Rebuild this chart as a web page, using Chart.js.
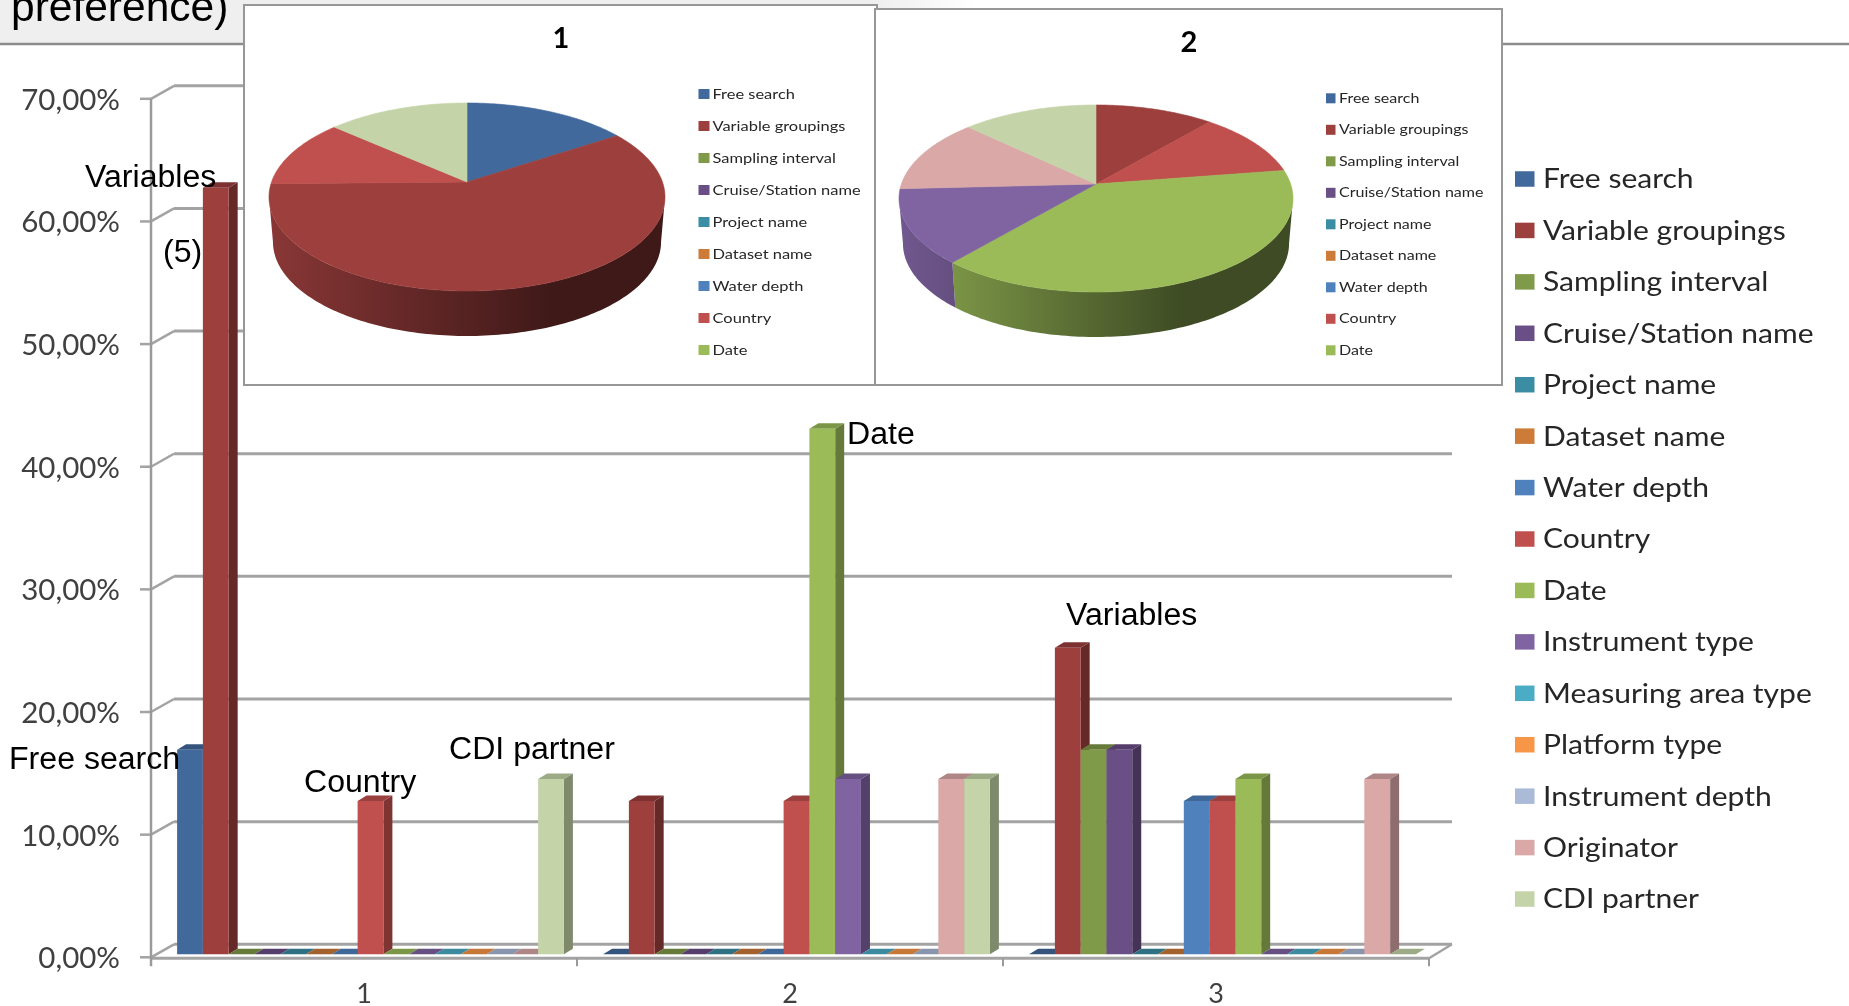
<!DOCTYPE html>
<html>
<head>
<meta charset="utf-8">
<title>Search preference</title>
<script src="https://cdn.jsdelivr.net/npm/chart.js@4"></script>
<style>
  html, body { margin: 0; padding: 0; background: #fff; overflow: hidden; }
  #page { position: relative; width: 1849px; height: 1006px; }
  #mainChart { position: absolute; left: 0; top: 0; }
  .inset { position: absolute; box-sizing: border-box; background: #fff; border: 2px solid #979797; }
  .inset canvas { display: block; }
  #inset1 { left: 243px; top: 4px; width: 635px; height: 382px; z-index: 1; }
  #inset2 { left: 874px; top: 8px; width: 629px; height: 378px; z-index: 2; }
</style>
</head>
<body>
<div id="page">
  <canvas id="mainChart" width="1849" height="1006"></canvas>
  <div class="inset" id="inset1"><canvas id="pie1" width="631" height="378"></canvas></div>
  <div class="inset" id="inset2"><canvas id="pie2" width="625" height="374"></canvas></div>
</div>
<script>
// ====== Data ======
const groups = ['1', '2', '3'];
const yTicks = [0, 10, 20, 30, 40, 50, 60, 70];

const seriesNames = [
  'Free search', 'Variable groupings', 'Sampling interval', 'Cruise/Station name',
  'Project name', 'Dataset name', 'Water depth', 'Country', 'Date', 'Instrument type',
  'Measuring area type', 'Platform type', 'Instrument depth', 'Originator', 'CDI partner'
];
const seriesColors = [
  '#41699c', '#9c3f3d', '#7f9a48', '#6a4e86', '#3b8da3', '#cc7b38', '#4f81bd', '#c0504d',
  '#9bbb59', '#8064a2', '#4bacc6', '#f79646', '#aabad7', '#d9a8a7', '#c4d4a8'
];

const freeSearch = [16.67, 0, 0];
const variableGroupings = [62.5, 12.5, 25];
const samplingInterval = [0, 0, 16.67];
const cruiseStation = [0, 0, 16.67];
const projectName = [0, 0, 0];
const datasetName = [0, 0, 0];
const waterDepth = [0, 0, 12.5];
const country = [12.5, 12.5, 12.5];
const dateField = [0, 42.86, 14.29];
const instrumentType = [0, 14.29, 0];
const measuringArea = [0, 0, 0];
const platformType = [0, 0, 0];
const instrumentDepth = [0, 0, 0];
const originator = [0, 14.29, 14.29];
const cdiPartner = [14.29, 14.29, 0];

const seriesValues = [
  freeSearch, variableGroupings, samplingInterval, cruiseStation, projectName, datasetName,
  waterDepth, country, dateField, instrumentType, measuringArea, platformType,
  instrumentDepth, originator, cdiPartner
];

// hand-placed callouts on the bar chart
const notes = [
  { text: 'Variables', x: 85, y: 178 },
  { text: '(5)', x: 163, y: 253 },
  { text: 'Free search', x: 9, y: 760 },
  { text: 'Country', x: 304, y: 783 },
  { text: 'CDI partner', x: 449, y: 750 },
  { text: 'Date', x: 847, y: 435 },
  { text: 'Variables', x: 1066, y: 616 }
];

// ====== Helpers ======
const UI_FONT = 'Lato, Carlito, sans-serif';
const NOTE_FONT = '"Liberation Sans", Arial, sans-serif';
const GRID_COLOR = '#a3a3a3';

function shade(hex, k) {
  const n = parseInt(hex.slice(1), 16);
  const r = Math.round(((n >> 16) & 255) * k);
  const g = Math.round(((n >> 8) & 255) * k);
  const b = Math.round((n & 255) * k);
  return `rgb(${r},${g},${b})`;
}

function tracePoly(ctx, pts) {
  ctx.beginPath();
  pts.forEach((p, i) => i ? ctx.lineTo(p[0], p[1]) : ctx.moveTo(p[0], p[1]));
  ctx.closePath();
}

function poly(ctx, pts, fill) {
  tracePoly(ctx, pts);
  ctx.fillStyle = fill;
  ctx.fill();
}

function line(ctx, x1, y1, x2, y2, width, color) {
  ctx.beginPath();
  ctx.moveTo(x1, y1);
  ctx.lineTo(x2, y2);
  ctx.lineWidth = width;
  ctx.strokeStyle = color;
  ctx.stroke();
}

// draws text stretched sideways, the picture was resized unevenly
function stretchedText(ctx, text, x, y, font, color, sx) {
  ctx.save();
  ctx.translate(x, y);
  ctx.scale(sx, 1);
  ctx.font = font;
  ctx.fillStyle = color;
  ctx.textAlign = 'left';
  ctx.textBaseline = 'middle';
  ctx.fillText(text, 0, 0);
  ctx.restore();
}

function drawLegend(ctx, o, count) {
  for (let i = 0; i < count; i++) {
    const y = o.y + i * o.step;
    ctx.fillStyle = seriesColors[i];
    ctx.fillRect(o.boxX, y - o.boxH / 2, o.boxW, o.boxH);
    stretchedText(ctx, seriesNames[i], o.textX, y + (o.textDrop || 0), o.font, o.color, o.sx);
  }
}

// ====== Bar chart: frame, walls, 3D bars ======
const DEPTH_X = 9, DEPTH_Y = 5.5;    // bar depth
const WALL_X = 23, WALL_Y = 13;      // floor depth
const BAR_SHIFT_X = 6.5, BAR_SHIFT_Y = -3;

const framePlugin = {
  id: 'frame',
  beforeDraw(chart) {
    const ctx = chart.ctx;
    const band = ctx.createLinearGradient(880, 0, 975, 0);
    band.addColorStop(0, '#efefef');
    band.addColorStop(1, '#ffffff');
    ctx.fillStyle = band;
    ctx.fillRect(0, 0, 1000, 43);
    line(ctx, 0, 44, 1849, 44, 2.5, '#8c8c8c');

    ctx.font = '42.5px ' + NOTE_FONT;
    ctx.fillStyle = '#000';
    ctx.textAlign = 'left';
    ctx.textBaseline = 'alphabetic';
    ctx.fillText('preference)', 11, 20.5);

    const { left, right, bottom } = chart.chartArea;
    const y = chart.scales.y;

    // back wall and tick stubs
    yTicks.forEach(v => {
      const py = y.getPixelForValue(v);
      line(ctx, left - 11, py, left, py, 2.5, GRID_COLOR);
      line(ctx, left, py, left + WALL_X, py - WALL_Y, 2.5, GRID_COLOR);
      line(ctx, left + WALL_X, py - WALL_Y, right + WALL_X, py - WALL_Y, 3, GRID_COLOR);
    });

    // floor
    line(ctx, left, bottom + 1, right, bottom + 1, 3, GRID_COLOR);
    line(ctx, right, bottom + 1, right + WALL_X, bottom - WALL_Y, 2.5, GRID_COLOR);
    line(ctx, left, y.top, left, bottom + 9, 2.5, '#9a9a9a');
    for (let i = 1; i <= groups.length; i++) {
      const px = left + i * (right - left) / groups.length;
      line(ctx, px, bottom + 1, px, bottom + 9, 2, '#9a9a9a');
    }
  }
};

const bar3dPlugin = {
  id: 'bar3d',
  beforeDatasetsDraw(chart) {
    const ctx = chart.ctx;
    ctx.save();
    ctx.translate(BAR_SHIFT_X, BAR_SHIFT_Y);
    // left to right so each bar hides the side of the one before it
    chart.getSortedVisibleDatasetMetas().forEach(meta => {
      const color = seriesColors[meta.index];
      meta.data.forEach(bar => {
        const x0 = bar.x - bar.width / 2, x1 = bar.x + bar.width / 2;
        const top = bar.y, base = bar.base;
        if (base - top > 0.5) {
          poly(ctx, [[x1, top], [x1 + DEPTH_X, top - DEPTH_Y], [x1 + DEPTH_X, base - DEPTH_Y], [x1, base]], shade(color, 0.65));
        }
        poly(ctx, [[x0, top], [x1, top], [x1 + DEPTH_X, top - DEPTH_Y], [x0 + DEPTH_X, top - DEPTH_Y]], shade(color, 0.8));
        bar.draw(ctx);
      });
    });
    ctx.restore();
    return false;
  },
  afterDraw(chart) {
    const ctx = chart.ctx;
    notes.forEach(n => stretchedText(ctx, n.text, n.x, n.y, '31px ' + NOTE_FONT, '#000', 1.035));
    drawLegend(ctx, { y: 179, step: 51.43, boxX: 1515, boxW: 19.5, boxH: 15.5, textX: 1543, textDrop: 1, font: '26px ' + UI_FONT, color: '#262626', sx: 1.155 }, seriesNames.length);
  }
};

new Chart(document.getElementById('mainChart'), {
  type: 'bar',
  data: {
    labels: groups,
    datasets: seriesNames.map((name, i) => ({
      label: name,
      data: seriesValues[i],
      backgroundColor: seriesColors[i],
      borderWidth: 0,
      categoryPercentage: 0.908,
      barPercentage: 1
    }))
  },
  options: {
    responsive: false,
    animation: false,
    events: [],
    devicePixelRatio: 1,
    layout: { padding: { top: 98.8, right: 420, left: 0, bottom: 0 } },
    plugins: { legend: { display: false }, title: { display: false }, tooltip: { enabled: false } },
    scales: {
      x: {
        grid: { display: false, drawTicks: false },
        border: { display: false },
        ticks: { padding: 21, color: '#404040', font: { family: UI_FONT, size: 27 } },
        afterFit: s => { s.height = 48; }
      },
      y: {
        min: 0,
        max: 70,
        afterBuildTicks: s => { s.ticks = yTicks.map(v => ({ value: v })); },
        grid: { display: false, drawTicks: false },
        border: { display: false },
        ticks: { padding: 31, labelOffset: 1.5, color: '#404040', font: { family: UI_FONT, size: 29.5 }, callback: v => v + ',00%' },
        afterFit: s => { s.width = 151; }
      }
    }
  },
  plugins: [framePlugin, bar3dPlugin]
});

// ====== 3D pies ======

// circle angle to screen, with perspective: the back of the pie is further away
function rimPoint(o, t, drop, shrink) {
  const k = (o.ryLow - o.ryUp) / (o.ryLow + o.ryUp);
  const w = 1 - k * Math.sin(t);
  const halfW = o.rx * Math.sqrt(1 - k * k) * shrink;
  const halfH = o.ryUp * (1 + k);
  return [o.cx + halfW * Math.cos(t) / w, o.cy + halfH * Math.sin(t) / w + drop];
}

function rimPoints(o, t0, t1, drop, shrink) {
  const steps = Math.max(2, Math.ceil(Math.abs(t1 - t0) / 0.02));
  const pts = [];
  for (let i = 0; i <= steps; i++) pts.push(rimPoint(o, t0 + (t1 - t0) * i / steps, drop, shrink));
  return pts;
}

const pie3dPlugin = {
  id: 'pie3d',
  beforeDatasetsDraw(chart, args, o) {
    const ctx = chart.ctx;
    const arcs = chart.getDatasetMeta(0).data;
    const edge = Math.asin((o.ryLow - o.ryUp) / (o.ryLow + o.ryUp));

    // outer wall, only the front part shows
    arcs.forEach((arc, i) => {
      const t0 = Math.max(arc.startAngle, edge), t1 = Math.min(arc.endAngle, Math.PI - edge);
      if (arc.circumference === 0 || t1 <= t0) return;
      const grad = ctx.createLinearGradient(o.cx - o.rx, 0, o.cx + o.rx, 0);
      grad.addColorStop(0, shade(seriesColors[i], 0.88));
      grad.addColorStop(0.72, shade(seriesColors[i], 0.4));
      grad.addColorStop(1, shade(seriesColors[i], 0.4));
      poly(ctx, rimPoints(o, t0, t1, 0, 1).concat(rimPoints(o, t1, t0, o.depth, 0.98)), grad);
    });

    // top face, sectors follow the angles the library worked out
    arcs.forEach((arc, i) => {
      if (arc.circumference === 0) return;
      tracePoly(ctx, [[o.cx, o.cy]].concat(rimPoints(o, arc.startAngle, arc.endAngle, 0, 1)));
      ctx.fillStyle = seriesColors[i];
      ctx.strokeStyle = seriesColors[i];
      ctx.lineWidth = 0.6;
      ctx.fill();
      ctx.stroke();
    });
    return false;
  },
  afterDraw(chart, args, o) {
    const ctx = chart.ctx;
    ctx.font = 'bold 29px ' + UI_FONT;
    ctx.fillStyle = '#000';
    ctx.textAlign = 'center';
    ctx.textBaseline = 'middle';
    ctx.fillText(o.title, o.titleX, o.titleY);
    drawLegend(ctx, o.legend, 9);
  }
};

function makePie(id, groupIndex, pieOptions) {
  return new Chart(document.getElementById(id), {
    type: 'pie',
    data: {
      labels: seriesNames,
      datasets: [{
        data: seriesValues.map(s => s[groupIndex]),
        backgroundColor: seriesColors,
        borderWidth: 0
      }]
    },
    options: {
      responsive: false,
      animation: false,
      events: [],
      devicePixelRatio: 1,
      plugins: { legend: { display: false }, title: { display: false }, tooltip: { enabled: false }, pie3d: pieOptions }
    },
    plugins: [pie3dPlugin]
  });
}

makePie('pie1', 0, {
  cx: 222, cy: 176, rx: 198, ryUp: 79, ryLow: 109, depth: 45,
  title: groups[0], titleX: 316, titleY: 33,
  legend: { y: 88, step: 32, boxX: 453.5, boxW: 11, boxH: 10, textX: 467.5, font: '14px ' + UI_FONT, color: '#262626', sx: 1.174 }
});
makePie('pie2', 1, {
  cx: 220, cy: 174, rx: 197, ryUp: 79, ryLow: 108, depth: 45,
  title: groups[1], titleX: 313, titleY: 33,
  legend: { y: 88.3, step: 31.5, boxX: 450, boxW: 9.5, boxH: 10, textX: 463, font: '14px ' + UI_FONT, color: '#262626', sx: 1.145 }
});
</script>
</body>
</html>
